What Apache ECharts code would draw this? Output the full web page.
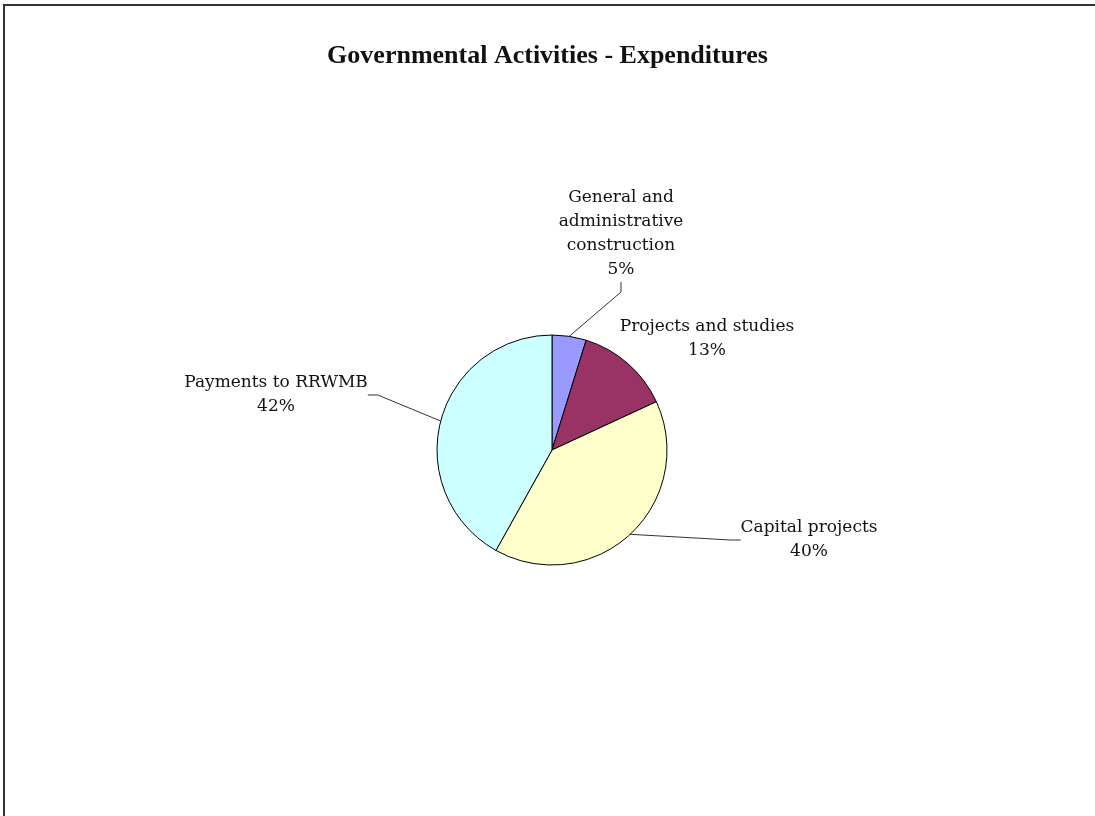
<!DOCTYPE html>
<html>
<head>
<meta charset="utf-8">
<script src="https://cdn.jsdelivr.net/npm/echarts@6/dist/echarts.min.js"></script>
<style>
html,body{margin:0;padding:0;background:#fff;overflow:hidden;}
#frame{position:absolute;left:3px;top:4px;width:1300px;height:1100px;border-style:solid;border-color:#333;border-width:2px 0 0 2px;box-sizing:border-box;}
#chart{position:absolute;left:0;top:0;width:1095px;height:816px;}
</style>
</head>
<body>
<div id="frame"></div>
<div id="chart"></div>
<script>
const titleText = 'Governmental Activities - Expenditures';
const categories = ['General and\nadministrative\nconstruction', 'Projects and studies', 'Capital projects', 'Payments to RRWMB'];
const values = [4.8, 13.3, 40.0, 41.9];
const sliceColors = ['#9999FF', '#993366', '#FFFFCC', '#CCFFFF'];
const labelCenters = [[621, 234], [707, 339], [809, 540], [276, 395]];
const showLines = [true, false, true, true];

const chart = echarts.init(document.getElementById('chart'), null, {renderer: 'canvas'});
chart.setOption({
  backgroundColor: 'transparent',
  animation: false,
  title: {
    text: titleText,
    left: 'center',
    top: 38,
    textStyle: {fontFamily: 'Liberation Serif', fontWeight: 'bold', fontSize: 26, color: '#111'}
  },
  series: [{
    type: 'pie',
    center: [552, 450],
    radius: 115,
    startAngle: 90,
    clockwise: true,
    data: categories.map((c, i) => ({
      name: c, value: values[i],
      itemStyle: {color: sliceColors[i]},
      labelLine: {show: showLines[i]}
    })),
    itemStyle: {borderColor: '#000', borderWidth: 1},
    label: {
      show: true,
      position: 'outside',
      fontFamily: 'DejaVu Serif',
      fontSize: 17,
      lineHeight: 24,
      color: '#111',
      align: 'center',
      formatter: p => p.name + '\n' + Math.round(p.percent) + '%'
    },
    labelLine: {show: true, length: 20, length2: 10, lineStyle: {color: '#333', width: 1}},
    labelLayout: function (params) {
      const c = labelCenters[params.dataIndex];
      return {x: c[0], y: c[1], align: 'center', verticalAlign: 'middle'};
    },
    emphasis: {disabled: true}
  }]
});
</script>
</body>
</html>
